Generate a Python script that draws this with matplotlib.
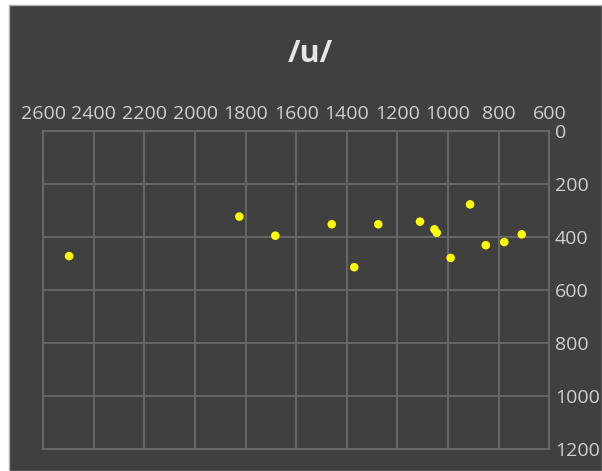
import matplotlib
matplotlib.use("Agg")
import matplotlib.pyplot as plt
from matplotlib.patches import Rectangle

# Formant measurements for /u/: F2 (Hz) and F1 (Hz)
f2_values = [2498, 1825, 1683, 1460, 1371, 1276, 1111, 1054, 1045, 990, 913, 851, 778, 709]
f1_values = [472, 323, 395, 352, 514, 352, 342, 371, 384, 479, 277, 431, 419, 390]
x_ticks = [2600, 2400, 2200, 2000, 1800, 1600, 1400, 1200, 1000, 800, 600]
y_ticks = [0, 200, 400, 600, 800, 1000, 1200]
title_text = "/u/"

BG = "#404040"
GRID = "#6a6a6a"
TEXT = "#cfcfcf"

W, H = 602, 471
fig = plt.figure(figsize=(W / 100, H / 100), dpi=100)
fig.patch.set_facecolor("white")

# dark panel behind the chart
fig.patches.append(Rectangle((8.5 / W, 0), 1 - 8.5 / W, (H - 4.5) / H,
                             transform=fig.transFigure, facecolor=BG,
                             edgecolor="#b0b0b0", linewidth=1.0, zorder=-5))

ax = fig.add_axes([43.3 / W, 1 - 449 / H, (549.3 - 43.3) / W, (449 - 131) / H])
ax.set_zorder(2)
ax.set_facecolor(BG)

ax.scatter(f2_values, f1_values, s=38, color="#ffff00", edgecolors="none", zorder=3)

ax.set_xlim(2600, 600)
ax.set_ylim(1200, 0)
ax.set_xticks(x_ticks)
ax.set_yticks(y_ticks)
ax.xaxis.tick_top()
ax.yaxis.tick_right()
ax.tick_params(axis="both", length=0, colors=TEXT, labelsize=14)
ax.tick_params(axis="x", pad=6)
ax.tick_params(axis="y", pad=4)
for lab in ax.get_xticklabels() + ax.get_yticklabels():
    lab.set_fontfamily("Open Sans")

ax.grid(True, color=GRID, linewidth=1.3)
for sp in ax.spines.values():
    sp.set_color(GRID)
    sp.set_linewidth(1.3)

fig.text(310 / W, 1 - 54 / H, title_text, ha="center", va="center",
         fontsize=22, fontweight="bold", color="#e6e6e6", family="Open Sans",
         zorder=5)

fig.savefig("out.png", dpi=100, facecolor=fig.get_facecolor())
